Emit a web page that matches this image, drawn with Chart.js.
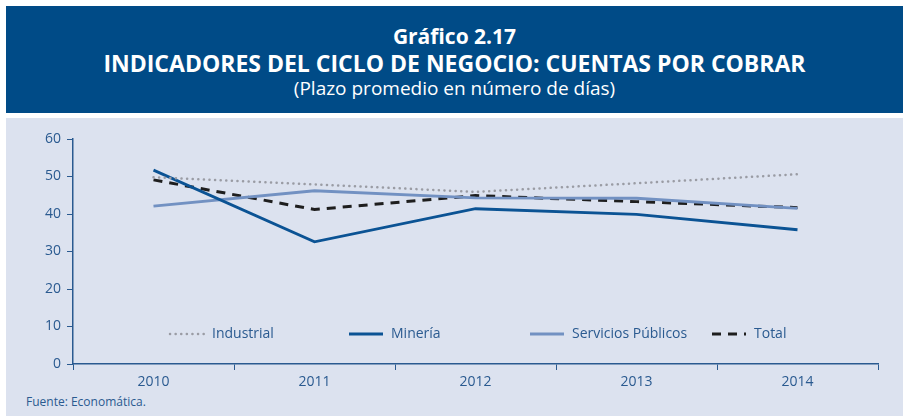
<!DOCTYPE html>
<html>
<head>
<meta charset="utf-8">
<script src="https://cdn.jsdelivr.net/npm/chart.js@4"></script>
<style>
  body { margin: 0; width: 905px; height: 416px; background: #fff; font-family: "Open Sans", sans-serif; position: relative; overflow: hidden; }
  #cabecera { position: absolute; left: 6px; top: 6px; width: 897px; height: 107px; background: #004b87; color: #fff; text-align: center; }
  #cabecera .t1 { position: absolute; top: 16px; width: 100%; font-size: 21px; font-weight: bold; }
  #cabecera .t2 { position: absolute; top: 41px; width: 100%; font-size: 23px; font-weight: bold; }
  #cabecera .t3 { position: absolute; top: 69px; width: 100%; font-size: 19px; }
  #panel { position: absolute; left: 6px; top: 118px; width: 897px; height: 298px; background: #dce2ef; }
  #lienzo { position: absolute; left: 0; top: 118px; width: 905px; height: 274px; }
  #fuente { position: absolute; left: 26px; top: 393px; font-size: 12px; color: #2a5a90; }
</style>
</head>
<body>
<div id="cabecera">
  <div class="t1">Gráfico 2.17</div>
  <div class="t2">INDICADORES DEL CICLO DE NEGOCIO: CUENTAS POR COBRAR</div>
  <div class="t3">(Plazo promedio en número de días)</div>
</div>
<div id="panel"></div>
<div id="lienzo"><canvas id="myChart" width="905" height="274"></canvas></div>
<div id="fuente">Fuente: Economática.</div>
<script>
const anios = ["2010", "2011", "2012", "2013", "2014"];
const industrial = [49.8, 47.9, 45.9, 48.2, 50.6];
const mineria = [51.7, 32.6, 41.4, 39.9, 35.8];
const serviciosPublicos = [42.1, 46.2, 44.3, 44.2, 41.5];
const total = [49.1, 41.2, 44.9, 43.3, 41.7];
const ticksY = [0, 10, 20, 30, 40, 50, 60];

const azulEje = '#2a5a90';
const grafica = document.getElementById('myChart').getContext('2d');

// leyenda dentro del area, como en el original
const leyenda = {
    id: 'leyenda',
    afterDraw(chart) {
        const ctx = chart.ctx;
        const y = 216;
        const items = [
            { x: 170, txt: 'Industrial', ds: 0 },
            { x: 349, txt: 'Minería', ds: 1 },
            { x: 530, txt: 'Servicios Públicos', ds: 2 },
            { x: 712, txt: 'Total', ds: 3 }
        ];
        ctx.save();
        for (const it of items) {
            const d = chart.data.datasets[it.ds];
            ctx.beginPath();
            ctx.strokeStyle = d.borderColor;
            ctx.lineWidth = d.borderWidth;
            ctx.lineCap = d.borderCapStyle || 'butt';
            ctx.setLineDash(d.borderDash || []);
            ctx.moveTo(it.x, y);
            ctx.lineTo(it.x + 34, y);
            ctx.stroke();
            ctx.setLineDash([]);
            ctx.fillStyle = azulEje;
            ctx.font = '14px "Open Sans"';
            ctx.textBaseline = 'middle';
            ctx.fillText(it.txt, it.x + 42, y);
        }
        ctx.restore();
    }
};

const myChart = new Chart(grafica, {
    type: 'line',
    data: {
        labels: anios,
        datasets: [
            {
                label: 'Industrial',
                data: industrial,
                borderColor: '#9a9ca4',
                borderWidth: 2.5,
                borderDash: [0.1, 5.5],
                borderCapStyle: 'round',
                pointRadius: 0,
                tension: 0
            },
            {
                label: 'Minería',
                data: mineria,
                borderColor: '#0b5394',
                borderWidth: 2.8,
                pointRadius: 0,
                tension: 0
            },
            {
                label: 'Servicios Públicos',
                data: serviciosPublicos,
                borderColor: '#7291c2',
                borderWidth: 3,
                pointRadius: 0,
                tension: 0
            },
            {
                label: 'Total',
                data: total,
                borderColor: '#1e1e1e',
                borderWidth: 3,
                borderDash: [9, 7],
                pointRadius: 0,
                tension: 0
            }
        ]
    },
    options: {
        responsive: false,
        animation: false,
        layout: { padding: { top: 21, right: 27, left: 0, bottom: 0 } },
        plugins: { legend: { display: false }, tooltip: { enabled: false } },
        scales: {
            x: {
                offset: true,
                grid: { drawOnChartArea: false, color: azulEje, tickLength: 6, offset: true },
                border: { color: azulEje, width: 1.5 },
                ticks: { color: azulEje, font: { family: 'Open Sans', size: 14 }, padding: 4 },
                afterFit(scale) { scale.height = 28; }
            },
            y: {
                min: 0,
                max: 60,
                afterBuildTicks(scale) { scale.ticks = ticksY.map(v => ({ value: v })); },
                grid: { drawOnChartArea: false, color: azulEje, tickLength: 6 },
                border: { color: azulEje, width: 1.5 },
                ticks: { color: azulEje, font: { family: 'Open Sans', size: 14 }, padding: 6 },
                afterFit(scale) { scale.width = 73; }
            }
        }
    },
    plugins: [leyenda]
});
</script>
</body>
</html>
